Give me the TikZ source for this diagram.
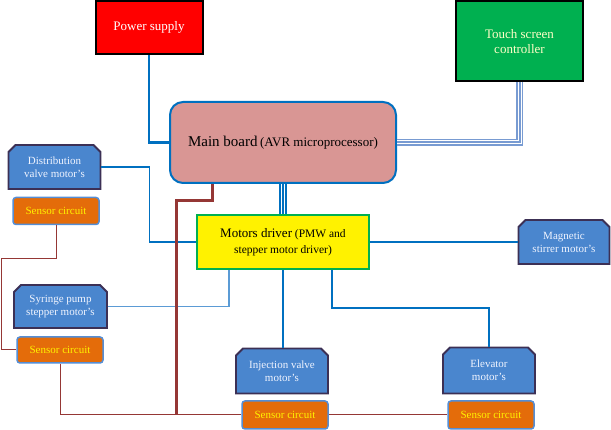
\documentclass[tikz,border=0pt]{standalone}
\usepackage{fontspec}
\setmainfont{Liberation Serif}
\usetikzlibrary{positioning,calc,shapes.misc}
\definecolor{wireblue}{RGB}{0,112,192}
\definecolor{lightwire}{RGB}{91,155,213}
\definecolor{busblue}{RGB}{120,155,210}
\definecolor{motorfill}{RGB}{74,134,206}
\definecolor{motorline}{RGB}{60,48,85}
\definecolor{motortext}{RGB}{240,244,255}
\definecolor{sensorfill}{RGB}{228,108,10}
\definecolor{sensorline}{RGB}{85,142,213}
\definecolor{boardfill}{RGB}{217,150,148}
\definecolor{drivergreen}{RGB}{0,176,80}
\definecolor{brownwire}{RGB}{149,55,53}
\definecolor{paleyellow}{RGB}{255,255,200}

\begin{document}
\begin{tikzpicture}[x=1pt, y=-1pt]
  \tikzstyle{block}=[draw=black, line width=2pt, align=center, inner sep=2pt, font=\fontsize{13}{15}\selectfont]
  \tikzstyle{motor}=[chamfered rectangle, chamfered rectangle corners={north west,north east}, chamfered rectangle xsep=3.5pt, chamfered rectangle ysep=3.5pt, draw=motorline, line width=1.8pt, fill=motorfill, text=motortext, align=center, font=\fontsize{11}{13}\selectfont, minimum width=92pt, minimum height=44pt, inner sep=1pt]
  \tikzstyle{sensor}=[rounded corners=3pt, draw=sensorline, line width=1.5pt, fill=sensorfill, text=yellow, font=\fontsize{11}{13}\selectfont, minimum width=86pt, minimum height=27pt, inner sep=1pt]
  \tikzstyle{wire}=[draw=wireblue, line width=1.8pt]
  \tikzstyle{bus}=[draw=#1, line width=7.5pt, postaction={draw=white, line width=4pt}, postaction={draw=#1, line width=2pt}]
  \tikzstyle{sensorwire}=[draw=brownwire, line width=1pt]
  \useasboundingbox (0,0) rectangle (611,430);

  % top blocks
  \node[block, fill=red, text=white, minimum width=107pt, minimum height=53pt] (power) at (149,27.5) {Power supply};
  \node[block, fill=drivergreen, text=paleyellow, minimum width=127pt, minimum height=80pt] (touch) at (519.5,41.5) {Touch screen\\controller};
  \node[draw=wireblue, line width=2pt, rounded corners=13pt, fill=boardfill, minimum width=226pt, minimum height=81pt] (main) at (283,142.5)
    {{\fontsize{15}{17}\selectfont Main board} {\fontsize{13}{15}\selectfont (AVR microprocessor)}};
  \node[draw=drivergreen, line width=2pt, fill=yellow, align=center, minimum width=172pt, minimum height=54pt, font=\fontsize{11.5}{16}\selectfont] (driver) at (283,242)
    {{\fontsize{13}{15}\selectfont Motors driver} (PMW and\\stepper motor driver)};

  % motors and sensors
  \node[motor] (dist) at (54.5,167) {Distribution\\valve motor's};
  \node[sensor] (s1) at (56,211) {Sensor circuit};
  \node[motor, minimum width=93pt, minimum height=43pt] (syringe) at (60.5,306.5) {Syringe pump\\stepper motor's};
  \node[sensor, minimum height=26pt] (s2) at (60,350) {Sensor circuit};
  \node[motor, minimum width=91pt] (stirrer) at (564,242) {Magnetic\\stirrer motor's};
  \node[motor, minimum height=45pt] (inj) at (282,371) {Injection valve\\motor's};
  \node[motor, minimum height=46pt] (elev) at (489,370.5) {Elevator\\motor's};
  \node[sensor, minimum height=28pt] (s3) at (285,415) {Sensor circuit};
  \node[sensor, minimum height=28pt] (s4) at (491,415) {Sensor circuit};
  \coordinate (busend) at (176.5,415);

  % power and data links
  \draw[wire, line width=2.4pt] (power.south) |- (main.west);
  \draw[bus=busblue] (touch.south) |- (main.east);
  \draw[bus=wireblue] (main.south) -- (driver.north);

  % motor links
  \draw[wire] (dist.east) -- ++(48,0) |- (driver.west);
  \draw[draw=lightwire, line width=1.2pt] (syringe.east) -| ([xshift=33pt]driver.south west);
  \draw[wire, line width=1.5pt] (driver.east) -- (stirrer.west);
  \draw[wire] (driver.south) -- (driver.south |- inj.north);
  \draw[wire] ([xshift=-38pt]driver.south east) -- ++(0,38) -| (elev.north);

  % sensor links
  \draw[draw=brownwire, line width=3pt] ([xshift=43pt]main.south west) -- ++(0,17) -| (busend);
  \draw[sensorwire] (s1.south) |- (1,259) |- (s2.west);
  \draw[sensorwire] (s2.south) |- (s3.west);
  \draw[sensorwire] (s3.east) -- (s4.west);
\end{tikzpicture}
\end{document}
